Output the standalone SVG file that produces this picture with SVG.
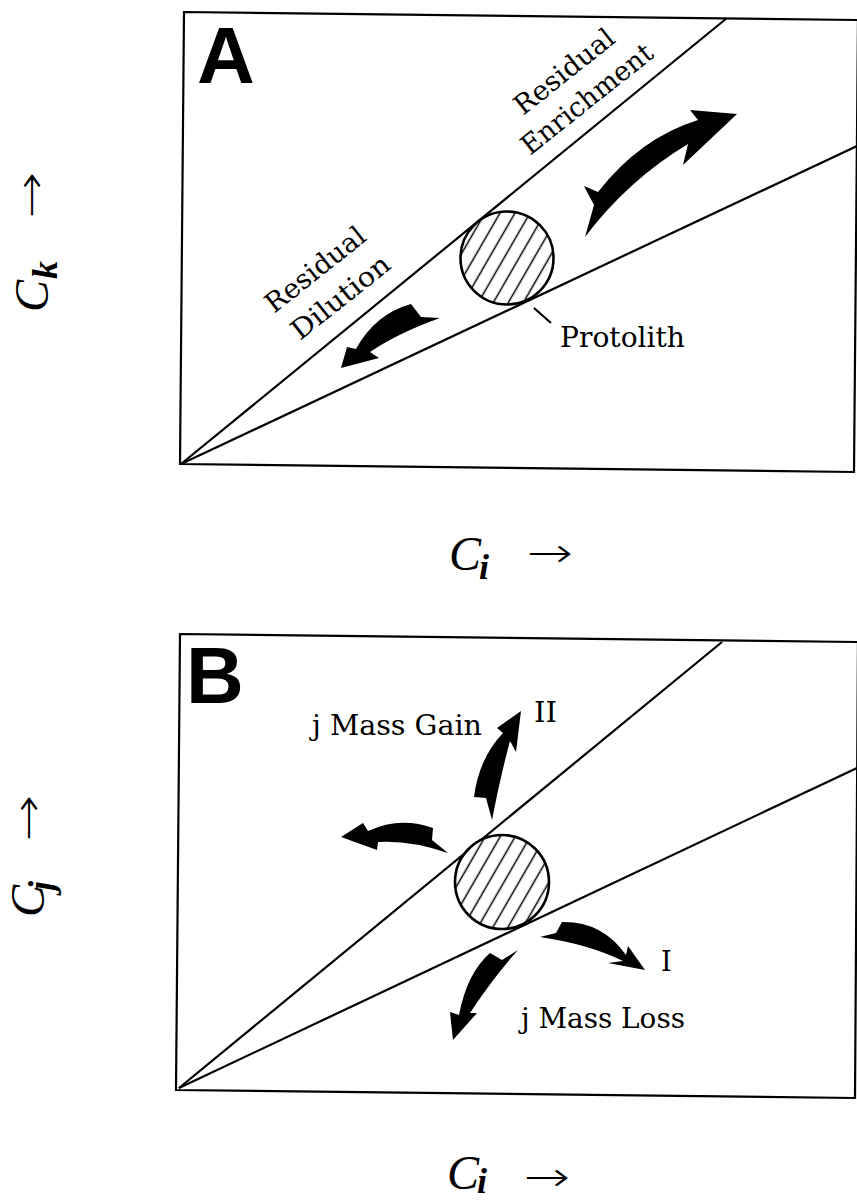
<svg xmlns="http://www.w3.org/2000/svg" width="857" height="1201" viewBox="0 0 857 1201">
  <style>
    .frame { fill: none; stroke: #000; stroke-width: 2.2; stroke-linejoin: miter; }
    .ray { fill: none; stroke: #000; stroke-width: 2.2; }
    .proto { fill: url(#hatch); stroke: #000; stroke-width: 2.6; }
    .arrow { fill: #000; stroke: none; }
    .lbl { font-family: "DejaVu Serif", "Liberation Serif", serif; font-size: 27px; fill: #000; }
    .panel { font-family: "Liberation Sans", Arial, sans-serif; font-weight: bold; font-size: 80px; fill: #000; }
    .math { font-family: "Liberation Serif", "Times New Roman", serif; font-style: italic; font-size: 48px; fill: #000; }
    .sub { font-family: "Liberation Serif", "Times New Roman", serif; font-style: italic; font-weight: bold; font-size: 36px; }
    .arr { font-family: "DejaVu Sans", sans-serif; font-weight: 200; font-size: 41px; fill: #000; }
  </style>
  <defs>
    <pattern id="hatch" patternUnits="userSpaceOnUse" width="13" height="13" patternTransform="rotate(30)">
      <rect width="13" height="13" fill="#fff"/>
      <line x1="6.5" y1="0" x2="6.5" y2="13" stroke="#000" stroke-width="1.5"/>
    </pattern>
  </defs>
  <rect width="857" height="1201" fill="#fff"/>

  <!-- Panel A -->
  <g id="panelA">
    <polygon class="frame" points="184,12 858,20 854,472 180,464"/>
    <g id="connectorsA">
      <line class="ray" x1="181" y1="464" x2="727" y2="18"/>
      <line class="ray" x1="181" y1="464" x2="857" y2="146"/>
      <line class="ray" x1="534" y1="308" x2="551" y2="323" stroke-width="1.6"/>
    </g>
    <g id="protolithA">
      <circle class="proto" cx="507" cy="258" r="46.5"/>
    </g>
    <g id="arrowEnrich">
      <path class="arrow" d="M584,186 L598,192 Q640,138 698,120 L690,110 L737,114 L683,165 L688,144 Q628,180 585,237 L594,205 Z"/>
    </g>
    <g id="arrowDilute">
      <path class="arrow" d="M411,304 Q375,314 356,349 L347,347 L341,368 L379,358 L370,352 Q398,333 440,318 L421,317 Z"/>
    </g>
    <text class="panel" x="197" y="83">A</text>
    <text class="lbl" transform="translate(274,314) rotate(-38.5)" textLength="120" lengthAdjust="spacingAndGlyphs">Residual</text>
    <text class="lbl" transform="translate(300,341) rotate(-38.5)" textLength="118" lengthAdjust="spacingAndGlyphs">Dilution</text>
    <text class="lbl" transform="translate(523,116) rotate(-38.5)" textLength="120" lengthAdjust="spacingAndGlyphs">Residual</text>
    <text class="lbl" transform="translate(530,156) rotate(-38.5)" textLength="160" lengthAdjust="spacingAndGlyphs">Enrichment</text>
    <text class="lbl" x="560" y="347" textLength="125" lengthAdjust="spacingAndGlyphs">Protolith</text>
    <g id="axisA-y" transform="translate(48,312) rotate(-90)">
      <text class="math" x="0" y="0">C<tspan class="sub" x="33" y="9">k</tspan></text>
      <text class="arr" transform="translate(94,-3) scale(1.35,1)">→</text>
    </g>
    <g id="axisA-x">
      <text class="math" x="449" y="570">C<tspan class="sub" x="479" y="579">i</tspan></text>
      <text class="arr" transform="translate(527,567) scale(1.35,1)">→</text>
    </g>
  </g>

  <!-- Panel B -->
  <g id="panelB">
    <polygon class="frame" points="180,634 858,642 855,1098 176,1090"/>
    <g id="connectorsB">
      <line class="ray" x1="179" y1="1088" x2="722" y2="642"/>
      <line class="ray" x1="179" y1="1088" x2="857" y2="768"/>
    </g>
    <g id="protolithB">
      <circle class="proto" cx="502" cy="882" r="47"/>
    </g>
    <g id="arrowII">
      <path class="arrow" d="M474,797 Q479,758 503,733 L497,728 L521,711 L516,752 L510,741 Q500,778 492,820 L486,798 Z"/>
    </g>
    <g id="arrowLeft">
      <path class="arrow" d="M433,828 Q400,816 368,831 L363,823 L341,837 L377,850 L378,842 Q410,840 448,853 L432,840 Z"/>
    </g>
    <g id="arrowI">
      <path class="arrow" d="M562,922 Q602,921 626,955 L628,946 L645,970 L608,963 L623,961 Q588,944 540,937 L556,933 Z"/>
    </g>
    <g id="arrowDown">
      <path class="arrow" d="M518,950 Q493,978 470,1013 L477,1013 L453,1040 L450,1012 L459,1015 Q467,973 490,953 L502,960 Z"/>
    </g>
    <text class="panel" x="186" y="703">B</text>
    <text class="lbl" x="312" y="735" textLength="170" lengthAdjust="spacingAndGlyphs">j Mass Gain</text>
    <text class="lbl" x="534" y="722" textLength="23" lengthAdjust="spacingAndGlyphs">II</text>
    <text class="lbl" x="661" y="971">I</text>
    <text class="lbl" x="521" y="1028" textLength="164" lengthAdjust="spacingAndGlyphs">j Mass Loss</text>
    <g id="axisB-y" transform="translate(44,917) rotate(-90)">
      <text class="math" x="0" y="0">C<tspan class="sub" x="26" y="9">j</tspan></text>
      <text class="arr" transform="translate(76,-2) scale(1.35,1)">→</text>
    </g>
    <g id="axisB-x">
      <text class="math" x="447" y="1189">C<tspan class="sub" x="477" y="1193">i</tspan></text>
      <text class="arr" transform="translate(524,1191) scale(1.35,1)">→</text>
    </g>
  </g>
</svg>
